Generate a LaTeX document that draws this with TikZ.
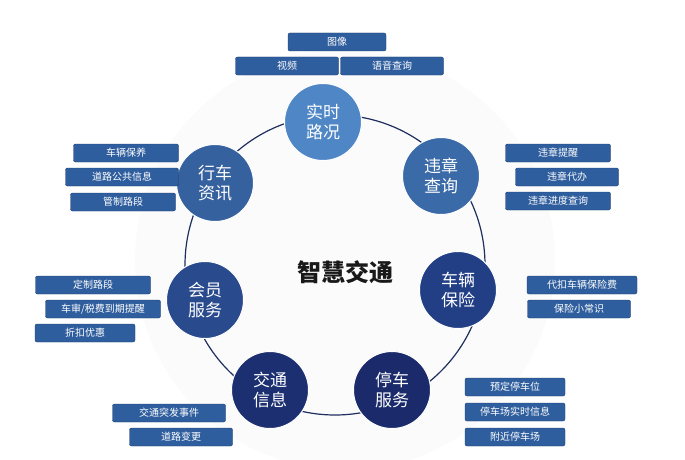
\documentclass[tikz,border=0pt]{standalone}
\usepackage{fontspec}
\newfontfamily\cjk{Noto Sans CJK SC}
\definecolor{ringline}{HTML}{1E2E5E}
\definecolor{boxblue}{HTML}{2F5E9E}
\definecolor{boxedge}{HTML}{1E3C70}
\tikzset{
  hub/.style = {circle, minimum size = 77pt, inner sep = 0pt, align = center,
    text = white, font = \cjk\fontsize{17}{20}\selectfont, draw = white, line width = 1pt},
  tag/.style = {rounded corners = 2pt, minimum width = 103pt, minimum height = 18pt,
    inner sep = 0pt, fill = boxblue, draw = boxedge, text = white,
    font = \cjk\fontsize{10}{12}\selectfont}
}
\begin{document}
\begin{tikzpicture}[x = 1pt, y = -1pt]
  \useasboundingbox (0, 0) rectangle (685, 460);
  \fill[white] (0, 0) rectangle (685, 460);
  \fill[black!1.5] (345, 260) circle (210);
  % ring
  \draw[ringline, line width = 1.2pt] (335, 265) circle (150);
  % hubs
  \node[hub, fill = {rgb,255:red,79;green,134;blue,198}] (shikuang) at (323, 122) {实时\\路况};
  \node[hub, fill = {rgb,255:red,58;green,106;blue,168}] (weizhang) at (441, 176) {违章\\查询};
  \node[hub, fill = {rgb,255:red,34;green,63;blue,134}] (baoxian) at (458, 290) {车辆\\保险};
  \node[hub, fill = {rgb,255:red,26;green,42;blue,106}] (tingche) at (392, 390) {停车\\服务};
  \node[hub, fill = {rgb,255:red,28;green,47;blue,112}] (xinxi) at (270, 390) {交通\\信息};
  \node[hub, fill = {rgb,255:red,42;green,74;blue,142}] (huiyuan) at (205, 300) {会员\\服务};
  \node[hub, fill = {rgb,255:red,53;green,97;blue,158}] (zixun) at (215, 183) {行车\\资讯};
  \node[font = \cjk\bfseries\fontsize{24}{28}\selectfont, text = black!90] (center) at (345, 272) {智慧交通};
  % tags
  \node[tag, minimum width = 98pt] (tuxiang) at (337, 42) {图像};
  \node[tag] (shipin) at (287, 66) {视频};
  \node[tag] (yuyin) at (392, 66) {语音查询};
  \node[tag, minimum width = 105pt] (baoyang) at (126, 153) {车辆保养};
  \node[tag, minimum width = 113pt] (gonggong) at (122, 177) {道路公共信息};
  \node[tag, minimum width = 105pt] (guanzhi) at (123, 202) {管制路段};
  \node[tag, minimum width = 105pt] (tixing) at (558, 153) {违章提醒};
  \node[tag] (daiban) at (567, 177) {违章代办};
  \node[tag, minimum width = 105pt] (jindu) at (558, 201) {违章进度查询};
  \node[tag, minimum width = 110pt] (daikou) at (582, 285) {代扣车辆保险费};
  \node[tag] (changshi) at (579, 309) {保险小常识};
  \node[tag, minimum width = 115pt] (dingzhi) at (93, 285) {定制路段};
  \node[tag, minimum width = 115pt] (cheshen) at (103, 309) {车审/税费到期提醒};
  \node[tag, minimum width = 100pt] (zhekou) at (85, 333) {折扣优惠};
  \node[tag, minimum width = 113pt] (tufa) at (169, 413) {交通突发事件};
  \node[tag] (biangeng) at (181, 437) {道路变更};
  \node[tag, minimum width = 100pt] (yuding) at (515, 387) {预定停车位};
  \node[tag, minimum width = 100pt] (shishi) at (515, 412) {停车场实时信息};
  \node[tag, minimum width = 100pt] (fujin) at (515, 437) {附近停车场};
\end{tikzpicture}
\end{document}
